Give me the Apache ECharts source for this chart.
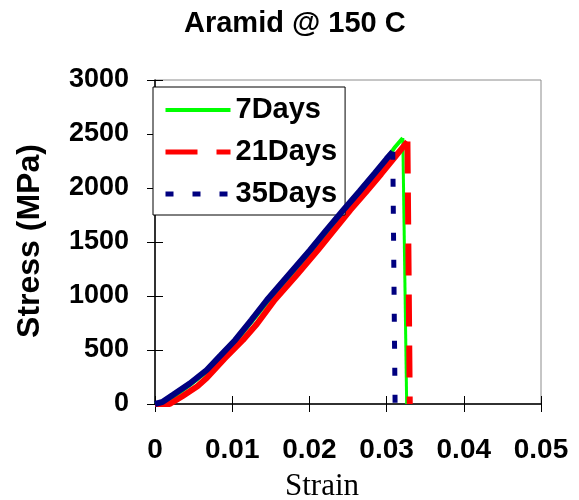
<!DOCTYPE html>
<html lang="en">
<head>
    <meta charset="UTF-8">
    <title>Aramid @ 150 C</title>
    <script src="https://cdn.jsdelivr.net/npm/echarts@6/dist/echarts.min.js"></script>
    <style>
        body { margin: 0; background: #fff; }
        #main { width: 579px; height: 500px; }
    </style>
</head>
<body>
<div id="main"></div>
<script>
    // strain / stress
    var days7 = [
        [0, 0], [0.001, 15], [0.0025, 70], [0.0045, 175], [0.0068, 305],
        [0.0105, 580], [0.0147, 955], [0.0203, 1420], [0.0246, 1790],
        [0.0287, 2140], [0.0311, 2380], [0.0321, 2463], [0.0326, 0]
    ];
    var days21 = [
        [0, 0], [0.0019, 0], [0.0035, 70], [0.0055, 165], [0.0067, 241],
        [0.0090, 420], [0.0114, 593], [0.0132, 740], [0.0155, 963],
        [0.0183, 1190], [0.0211, 1426], [0.0232, 1610], [0.0253, 1796],
        [0.0273, 1960], [0.0293, 2130], [0.0310, 2280], [0.0327, 2430], [0.0330, 0]
    ];
    var days35 = [
        [0, 0], [0.001, 20], [0.0023, 83], [0.0045, 190], [0.0067, 315],
        [0.0085, 450], [0.0104, 593], [0.0125, 780], [0.0145, 963],
        [0.0173, 1195], [0.0201, 1426], [0.0222, 1610], [0.0244, 1796],
        [0.0265, 1970], [0.0285, 2140], [0.0300, 2270], [0.0308, 2335], [0.0311, 0]
    ];
    var names = ['7Days', '21Days', '35Days'];
    var xTicks = [0, 0.01, 0.02, 0.03, 0.04, 0.05];
    var yTicks = [0, 500, 1000, 1500, 2000, 2500, 3000];

    var myChart = echarts.init(document.getElementById('main'));

    // the rising part looks solid (noisy data), only the drop shows the dash
    function rise(d) { return d.slice(0, d.length - 1); }
    function drop(d) { return d.slice(d.length - 2); }

    var sets = [
        { name: names[0], data: days7, color: '#00ff00', w: 3, lw: 4, dash: 'solid', z: 2 },
        { name: names[1], data: days21, color: '#ff0000', w: 6, lw: 5, dash: [32, 19], z: 3 },
        { name: names[2], data: days35, color: '#000080', w: 5, lw: 5, dash: [8, 19], z: 4 }
    ];
    var series = [];
    var legendData = [];
    sets.forEach(function (s) {
        series.push({
            name: s.name, type: 'line', data: drop(s.data), symbol: 'none', z: s.z,
            lineStyle: { color: s.color, width: s.w, type: s.dash },
            itemStyle: { color: s.color }
        });
        series.push({
            name: s.name + '_rise', type: 'line', data: rise(s.data), symbol: 'none', z: s.z,
            lineStyle: { color: s.color, width: s.name == '7Days' ? 4 : 6 },
            itemStyle: { color: s.color }
        });
        legendData.push({ name: s.name, lineStyle: { width: s.lw } });
    });

    var labelFont = 'Liberation Sans, Arial, sans-serif';
    myChart.setOption({
        animation: false,
        grid: { left: 155, right: 38, top: 80, bottom: 96, show: true, borderColor: '#8c8c8c', borderWidth: 1 },
        legend: {
            data: legendData, orient: 'vertical', left: 153, top: 87,
            padding: [8, 8, 6, 10], itemGap: 12, itemWidth: 65, itemHeight: 14,
            itemStyle: { opacity: 0 },
            backgroundColor: '#fff', borderColor: '#000', borderWidth: 1, borderRadius: 0,
            textStyle: { fontFamily: labelFont, fontWeight: 'bold', fontSize: 29, color: '#000', lineHeight: 30 }
        },
        xAxis: [{
            type: 'value', min: xTicks[0], max: xTicks[xTicks.length - 1], interval: 0.01,
            splitLine: { show: false },
            axisLine: { lineStyle: { color: '#000', width: 1.5 } },
            axisTick: { length: 8, lineStyle: { color: '#000' } },
            axisLabel: { margin: 32, fontFamily: labelFont, fontWeight: 'bold', fontSize: 28, color: '#000' }
        }, {
            type: 'value', min: xTicks[0], max: xTicks[xTicks.length - 1], interval: 0.01, position: 'bottom',
            splitLine: { show: false }, axisLine: { show: false }, axisLabel: { show: false },
            axisTick: { inside: true, length: 8, lineStyle: { color: '#000' } }
        }],
        yAxis: [{
            type: 'value', min: yTicks[0], max: yTicks[yTicks.length - 1], interval: 500,
            splitLine: { show: false },
            axisLine: { show: true, lineStyle: { color: '#000', width: 1.5 } },
            axisTick: { show: true, length: 8, lineStyle: { color: '#000' } },
            axisLabel: { margin: 26, fontFamily: labelFont, fontWeight: 'bold', fontSize: 27, color: '#000',
                         formatter: function (v) { return String(v); } }
        }, {
            type: 'value', min: yTicks[0], max: yTicks[yTicks.length - 1], interval: 500, position: 'left',
            splitLine: { show: false }, axisLine: { show: false }, axisLabel: { show: false },
            axisTick: { show: true, inside: true, length: 8, lineStyle: { color: '#000' } }
        }],
        graphic: [
            { type: 'text', left: 184, top: 9, style: { text: 'Aramid @ 150 C', font: 'bold 29px ' + labelFont, fill: '#000' } },
            { type: 'text', x: 30, y: 241, rotation: Math.PI / 2,
              style: { text: 'Stress (MPa)', font: 'bold 32px ' + labelFont, fill: '#000', align: 'center', verticalAlign: 'middle' } },
            { type: 'text', x: 322, y: 487,
              style: { text: 'Strain', font: '31px Liberation Serif, Times New Roman, serif', fill: '#000', align: 'center', verticalAlign: 'middle' } }
        ],
        series: series
    });
</script>
</body>
</html>
